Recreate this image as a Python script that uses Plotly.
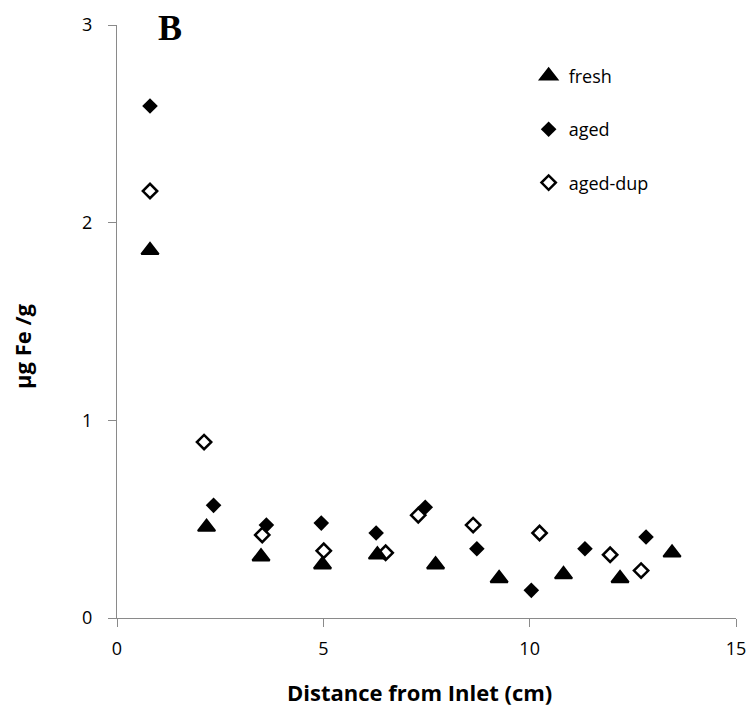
import plotly.graph_objects as go

# Iron concentration along the column for each sample set
fresh_x = [0.80, 2.17, 3.49, 4.98, 6.31, 7.72, 9.26, 10.82, 12.19, 13.45]
fresh_y = [1.86, 0.46, 0.31, 0.27, 0.32, 0.27, 0.20, 0.22, 0.20, 0.33]

aged_x = [0.80, 2.34, 3.62, 4.95, 6.28, 7.47, 8.72, 10.04, 11.34, 12.82]
aged_y = [2.59, 0.57, 0.47, 0.48, 0.43, 0.56, 0.35, 0.14, 0.35, 0.41]

dup_x = [0.80, 2.11, 3.52, 5.01, 6.51, 7.30, 8.63, 10.24, 11.95, 12.70]
dup_y = [2.16, 0.89, 0.42, 0.34, 0.33, 0.52, 0.47, 0.43, 0.32, 0.24]

x_ticks = [0, 5, 10, 15]
y_ticks = [0, 1, 2, 3]

FONT = "Open Sans"
AXIS_GREY = "#8a8a8a"

fig = go.Figure()
fig.add_trace(go.Scatter(
    x=fresh_x, y=fresh_y, mode="markers", name="fresh", legendgroup="a",
    marker=dict(symbol="triangle-up", size=15, color="black",
                line=dict(color="black", width=2)),
))
fig.add_trace(go.Scatter(
    x=aged_x, y=aged_y, mode="markers", name="aged", legendgroup="b",
    marker=dict(symbol="diamond", size=12, color="black", line=dict(width=0)),
))
fig.add_trace(go.Scatter(
    x=dup_x, y=dup_y, mode="markers", name="aged-dup", legendgroup="c",
    marker=dict(symbol="diamond-open", size=11, color="black",
                line=dict(color="black", width=2.5)),
))

axis_common = dict(
    showgrid=False, zeroline=False, showline=True, linecolor=AXIS_GREY,
    linewidth=1, ticks="outside", ticklen=8, tickcolor=AXIS_GREY, tickwidth=1,
    tickfont=dict(family=FONT, size=18, color="black"), automargin=False,
)

title_font = dict(family=FONT, size=22, color="black")

fig.update_layout(
    width=751, height=707,
    margin=dict(l=117, r=15, t=25, b=89),
    plot_bgcolor="white", paper_bgcolor="white",
    xaxis=dict(range=[0, 15], tickvals=x_ticks, ticklabelstandoff=6, **axis_common),
    yaxis=dict(range=[0, 3], tickvals=y_ticks, ticklabelstandoff=12, **axis_common),
    legend=dict(x=0.665, y=0.945, xanchor="left", yanchor="top",
                font=dict(family=FONT, size=18, color="black"),
                tracegroupgap=27, bgcolor="rgba(0,0,0,0)"),
    annotations=[
        dict(text="<b>B</b>", xref="paper", yref="paper",
             x=0.0856, y=0.995, xanchor="center", yanchor="middle",
             showarrow=False,
             font=dict(family="Liberation Serif", size=36, color="black")),
        dict(text="<b>Distance from Inlet (cm)</b>", xref="paper", yref="paper",
             x=0.4887, y=-0.1248, xanchor="center", yanchor="middle",
             showarrow=False, font=title_font),
        dict(text="<b>µg Fe /g</b>", xref="paper", yref="paper",
             x=-0.1535, y=0.4587, xanchor="center", yanchor="middle",
             textangle=-90, showarrow=False, font=title_font),
    ],
)

fig.write_html("out.html")
